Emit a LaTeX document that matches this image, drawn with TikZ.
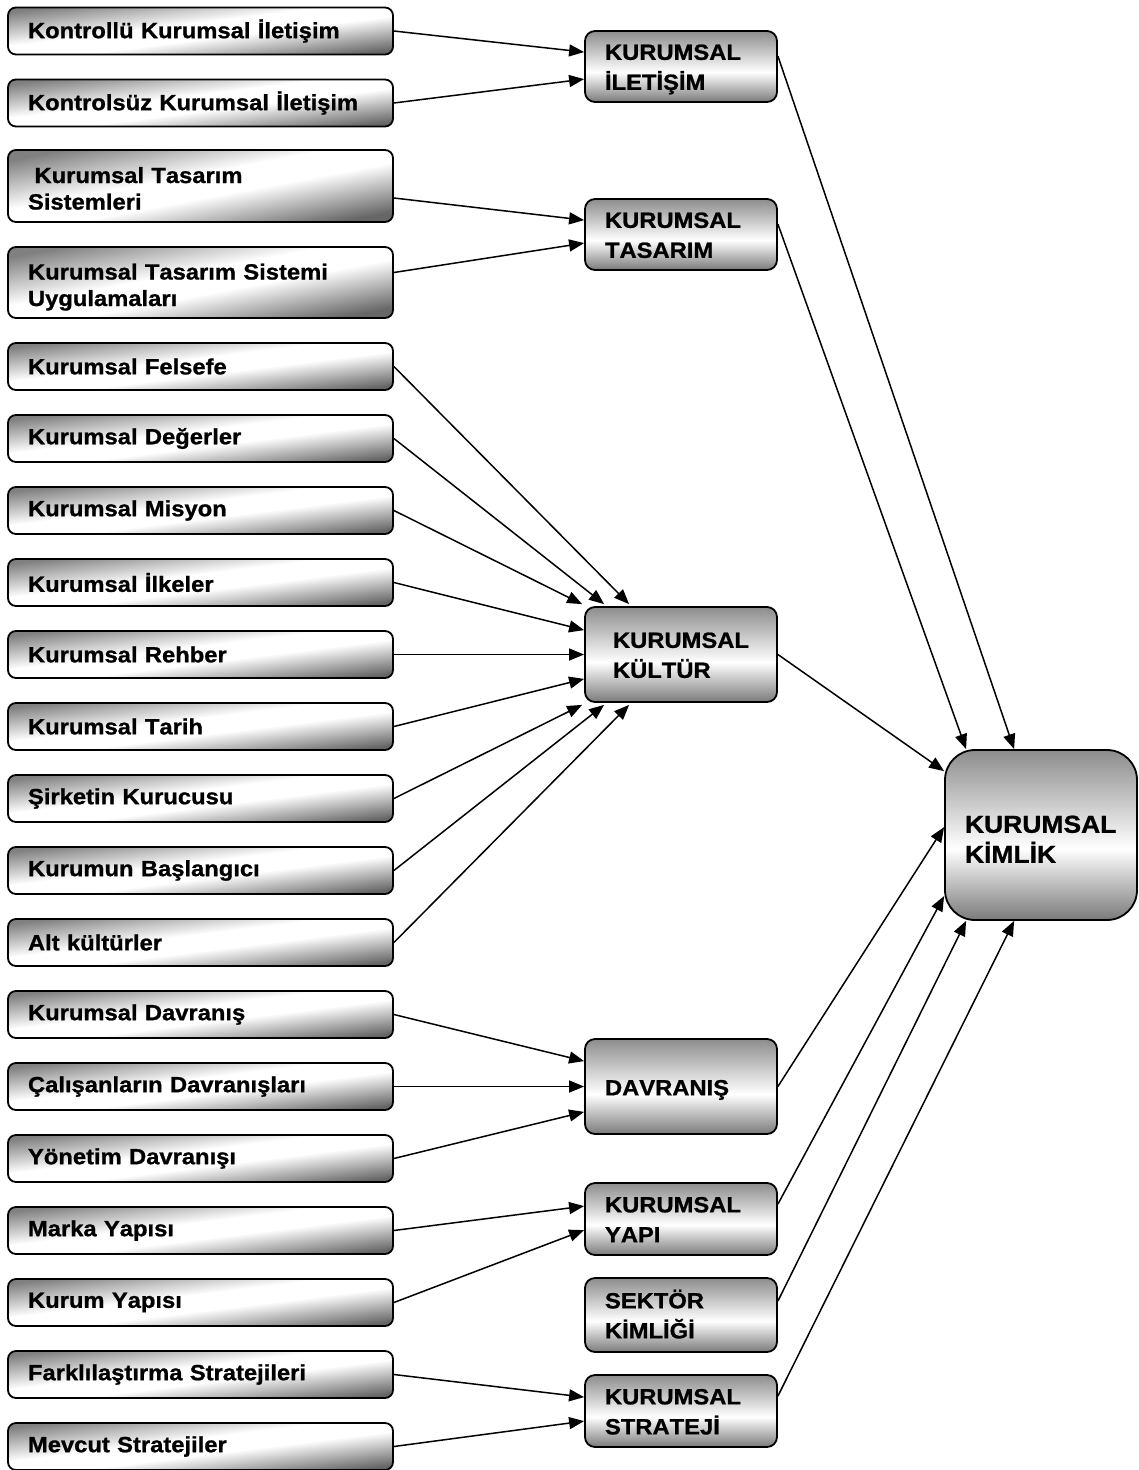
\documentclass[tikz,border=0pt]{standalone}
\usepackage{fontspec}
\setmainfont{Liberation Sans}[Kerning=Off, FakeStretch=1.08, BoldFeatures={FakeBold=1.0}]
\usetikzlibrary{arrows.meta,calc}
\definecolor{shA}{gray}{0.50}
\definecolor{shB}{gray}{0.40}
\definecolor{shC}{gray}{0.48}
\definecolor{shD}{gray}{0.55}
\pgfdeclarehorizontalshading{lshade}{100bp}{color(0bp)=(shA); color(25bp)=(shA); color(45bp)=(white); color(55bp)=(white); color(75bp)=(shB); color(100bp)=(shB)}
\pgfdeclareverticalshading{mshade}{100bp}{color(0bp)=(shC); color(25bp)=(shC); color(46bp)=(white); color(75bp)=(shD); color(100bp)=(shD)}
\begin{document}
\begin{tikzpicture}[x=1pt,y=-1pt,
  lbox/.style={draw=black, line width=1.8pt, rounded corners=8pt, shading angle=-83, shading=lshade, shade,
    text width=345pt, inner xsep=20pt, inner ysep=0pt, align=left, minimum height=47pt,
    font=\bfseries\fontsize{22}{26.5}\selectfont},
  ltwo/.style={shading angle=-79.4, text height=16pt, text depth=22pt},
  mbox/.style={draw=black, line width=1.8pt, rounded corners=10pt, shading=mshade, shade,
    text width=152pt, inner xsep=20pt, inner ysep=0pt, align=left,
    text height=16pt, text depth=29.3pt,
    font=\bfseries\fontsize{22}{30}\selectfont},
  kbox/.style={draw=black, line width=1.8pt, rounded corners=30pt, shading=mshade, shade,
    text width=152pt, inner xsep=20pt, inner ysep=0pt, align=left, minimum height=170pt,
    text height=18pt, text depth=22.5pt,
    font=\bfseries\fontsize{24.5}{30}\selectfont},
  arr/.style={line width=1.5pt, -{Triangle[length=15pt,width=12pt]}}
]
\useasboundingbox (0,0) rectangle (1139,1470);

% left boxes
\node[lbox] (l1) at (200.5,31) {Kontrollü Kurumsal İletişim};
\node[lbox] (l2) at (200.5,103) {Kontrolsüz Kurumsal İletişim};
\node[lbox,ltwo,minimum height=72pt] (l3) at (200.5,186) {\hspace*{6.5pt}Kurumsal Tasarım\\Sistemleri};
\node[lbox,ltwo,minimum height=71pt] (l4) at (200.5,282.5) {Kurumsal Tasarım Sistemi\\Uygulamaları};
\node[lbox] (l5) at (200.5,366.5) {Kurumsal Felsefe};
\node[lbox] (l6) at (200.5,438.5) {Kurumsal Değerler};
\node[lbox] (l7) at (200.5,510.5) {Kurumsal Misyon};
\node[lbox] (l8) at (200.5,582.5) {Kurumsal İlkeler};
\node[lbox] (l9) at (200.5,654.5) {Kurumsal Rehber};
\node[lbox] (l10) at (200.5,726.5) {Kurumsal Tarih};
\node[lbox] (l11) at (200.5,798.5) {Şirketin Kurucusu};
\node[lbox] (l12) at (200.5,870.5) {Kurumun Başlangıcı};
\node[lbox] (l13) at (200.5,942.5) {Alt kültürler};
\node[lbox] (l14) at (200.5,1014.5) {Kurumsal Davranış};
\node[lbox] (l15) at (200.5,1086.5) {Çalışanların Davranışları};
\node[lbox] (l16) at (200.5,1158.5) {Yönetim Davranışı};
\node[lbox] (l17) at (200.5,1230.5) {Marka Yapısı};
\node[lbox] (l18) at (200.5,1302.5) {Kurum Yapısı};
\node[lbox] (l19) at (200.5,1374.5) {Farklılaştırma Stratejileri};
\node[lbox] (l20) at (200.5,1446.5) {Mevcut Stratejiler};

% middle boxes
\node[mbox,minimum height=71pt] (m1) at (681,66.5) {KURUMSAL\\İLETİŞİM};
\node[mbox,minimum height=71pt] (m2) at (681,234.5) {KURUMSAL\\TASARIM};
\node[mbox,minimum height=95pt,text width=136pt,inner xsep=28pt] (m3) at (681,654.5) {KURUMSAL\\KÜLTÜR};
\node[mbox,minimum height=95pt,text height=18pt,text depth=0.3pt] (m4) at (681,1086.5) {DAVRANIŞ};
\node[mbox,minimum height=72pt] (m5) at (681,1219) {KURUMSAL\\YAPI};
\node[mbox,minimum height=74pt] (m6) at (681,1315) {SEKTÖR\\KİMLİĞİ};
\node[mbox,minimum height=72pt] (m7) at (681,1411) {KURUMSAL\\STRATEJİ};

% result box
\node[kbox] (k) at (1041,835) {KURUMSAL\\KİMLİK};

% connectors: iletisim
\draw[arr] (l1.east) -- ([yshift=-22pt]m1.north west);
\draw[arr] (l2.east) -- ([yshift=-49pt]m1.north west);
% tasarim
\draw[arr] ([yshift=-12pt]l3.east) -- ([yshift=-22pt]m2.north west);
\draw[arr] ([yshift=10pt]l4.east) -- ([yshift=-45pt]m2.north west);
% kultur
\draw[arr] (l5.east) -- ([xshift=45pt,yshift=2pt]m3.north west);
\draw[arr] (l6.east) -- ([xshift=20pt,yshift=2pt]m3.north west);
\draw[arr] (l7.east) -- ([xshift=-2pt,yshift=2pt]m3.north west);
\draw[arr] (l8.east) -- ([yshift=-24pt]m3.north west);
\draw[arr] (l9.east) -- (m3.west);
\draw[arr] (l10.east) -- ([yshift=24pt]m3.south west);
\draw[arr] (l11.east) -- ([xshift=-2pt,yshift=-2pt]m3.south west);
\draw[arr] (l12.east) -- ([xshift=20pt,yshift=-2pt]m3.south west);
\draw[arr] (l13.east) -- ([xshift=45pt,yshift=-2pt]m3.south west);
% davranis
\draw[arr] (l14.east) -- ([yshift=-23pt]m4.north west);
\draw[arr] (l15.east) -- (m4.west);
\draw[arr] (l16.east) -- ([yshift=23pt]m4.south west);
% yapi
\draw[arr] (l17.east) -- ([yshift=-24pt]m5.north west);
\draw[arr] (l18.east) -- ([yshift=-48pt]m5.north west);
% strateji
\draw[arr] (l19.east) -- ([yshift=-23pt]m7.north west);
\draw[arr] (l20.east) -- ([yshift=-47pt]m7.north west);

% to kimlik
\draw[arr] ([yshift=-26pt]m1.north east) -- ([xshift=70pt]k.north west);
\draw[arr] ([yshift=-26pt]m2.north east) -- ([xshift=22pt]k.north west);
\draw[arr] (m3.east) -- ([yshift=-22pt]k.north west);
\draw[arr] (m4.east) -- ([yshift=-78pt]k.north west);
\draw[arr] ([yshift=-22pt]m5.north east) -- ([yshift=-147pt]k.north west);
\draw[arr] ([yshift=-24pt]m6.north east) -- ([xshift=22pt]k.south west);
\draw[arr] ([yshift=-22pt]m7.north east) -- ([xshift=70pt]k.south west);
\end{tikzpicture}
\end{document}
